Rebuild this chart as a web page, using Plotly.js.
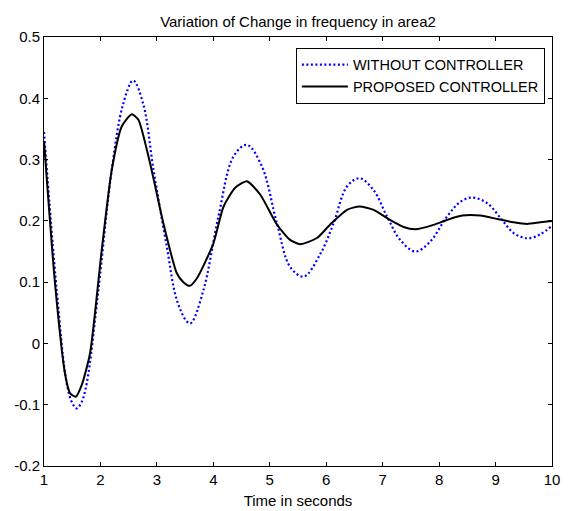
<!DOCTYPE html>
<html>
<head>
<meta charset="utf-8">
<script src="https://cdn.plot.ly/plotly-3.0.1.min.js"></script>
<style>html,body{margin:0;padding:0;background:#fff;}#chart{width:568px;height:511px;}</style>
</head>
<body>
<div id="chart"></div>
<script>
// Data
var withoutX = [1.0, 1.225, 1.402, 1.5, 1.58, 1.66, 1.757, 1.963, 2.2, 2.4, 2.58, 2.76, 2.94, 3.175, 3.353, 3.53, 3.6, 3.825, 4.09, 4.357, 4.594, 4.86, 5.126, 5.36, 5.6, 5.89, 6.13, 6.367, 6.59, 6.84, 7.077, 7.31, 7.58, 7.84, 8.14, 8.376, 8.58, 8.85, 9.115, 9.32, 9.56, 9.79, 10.0];
var withoutY = [0.345, 0.087, -0.065, -0.097, -0.106, -0.097, -0.065, 0.087, 0.283, 0.39, 0.429, 0.39, 0.283, 0.158, 0.071, 0.036, 0.033, 0.087, 0.207, 0.305, 0.324, 0.289, 0.196, 0.125, 0.109, 0.145, 0.196, 0.256, 0.2695, 0.250, 0.207, 0.169, 0.150, 0.166, 0.207, 0.231, 0.238, 0.229, 0.2015, 0.180, 0.1716, 0.178, 0.192];

var proposedX = [1.0, 1.195, 1.372, 1.46, 1.562, 1.668, 1.816, 2.023, 2.2, 2.377, 2.555, 2.672, 2.879, 3.115, 3.353, 3.47, 3.58, 3.707, 4.0, 4.18, 4.387, 4.594, 4.83, 5.126, 5.36, 5.54, 5.835, 6.07, 6.367, 6.59, 6.84, 7.13, 7.37, 7.58, 7.9, 8.14, 8.41, 8.73, 9.03, 9.32, 9.56, 9.79, 10.0];
var proposedY = [0.33, 0.098, -0.049, -0.081, -0.087, -0.068, -0.016, 0.1525, 0.283, 0.354, 0.374, 0.365, 0.294, 0.196, 0.1145, 0.10, 0.094, 0.106, 0.163, 0.223, 0.254, 0.2646, 0.243, 0.194, 0.169, 0.162, 0.172, 0.194, 0.218, 0.2235, 0.218, 0.2015, 0.19, 0.1863, 0.1935, 0.2015, 0.2086, 0.2086, 0.203, 0.1976, 0.195, 0.1976, 0.1997];

var xTickVals = [1, 2, 3, 4, 5, 6, 7, 8, 9, 10];
var xTickText = ['1', '2', '3', '4', '5', '6', '7', '8', '9', '10'];
var yTickVals = [-0.2, -0.1, 0, 0.1, 0.2, 0.3, 0.4, 0.5];
var yTickText = ['-0.2', '-0.1', '0', '0.1', '0.2', '0.3', '0.4', '0.5'];

var FONT = 'Liberation Sans, Arial, sans-serif';

var traces = [
  {
    x: withoutX, y: withoutY, type: 'scatter', mode: 'lines',
    name: 'WITHOUT CONTROLLER',
    line: {color: '#0000ff', width: 2.2, dash: '2px,2.5px', shape: 'spline', smoothing: 1}
  },
  {
    x: proposedX, y: proposedY, type: 'scatter', mode: 'lines',
    name: 'PROPOSED CONTROLLER',
    line: {color: '#000000', width: 2, shape: 'spline', smoothing: 0.6}
  }
];

var axisCommon = {
  showgrid: false, zeroline: false, showline: true, linecolor: '#000', linewidth: 1,
  mirror: 'ticks', ticks: 'inside', ticklen: 4, tickwidth: 1, tickcolor: '#000',
  tickfont: {family: FONT, size: 15, color: '#000'}, tickmode: 'array'
};

var layout = {
  width: 568, height: 511,
  margin: {l: 44, r: 16, t: 37, b: 45},
  paper_bgcolor: '#fff', plot_bgcolor: '#fff',
  font: {family: FONT, size: 15, color: '#000'},
  title: {text: 'Variation of Change in frequency in area2', font: {family: FONT, size: 15, color: '#000'},
          x: 0.5, xref: 'paper', xanchor: 'center', y: 1 - 22 / 511, yref: 'container', yanchor: 'middle'},
  xaxis: Object.assign({}, axisCommon, {range: [1, 10], tickvals: xTickVals, ticktext: xTickText,
          title: {text: 'Time in seconds', font: {family: FONT, size: 15, color: '#000'}, standoff: 8}}),
  yaxis: Object.assign({}, axisCommon, {range: [-0.2, 0.5], tickvals: yTickVals, ticktext: yTickText}),
  showlegend: true,
  legend: {x: 0.986, y: 0.975, xanchor: 'right', yanchor: 'top', bgcolor: '#fff',
           bordercolor: '#000', borderwidth: 1, font: {family: FONT, size: 14.5, color: '#000'},
           itemwidth: 46}
};

Plotly.newPlot('chart', traces, layout, {displayModeBar: false, staticPlot: true});
</script>
</body>
</html>
